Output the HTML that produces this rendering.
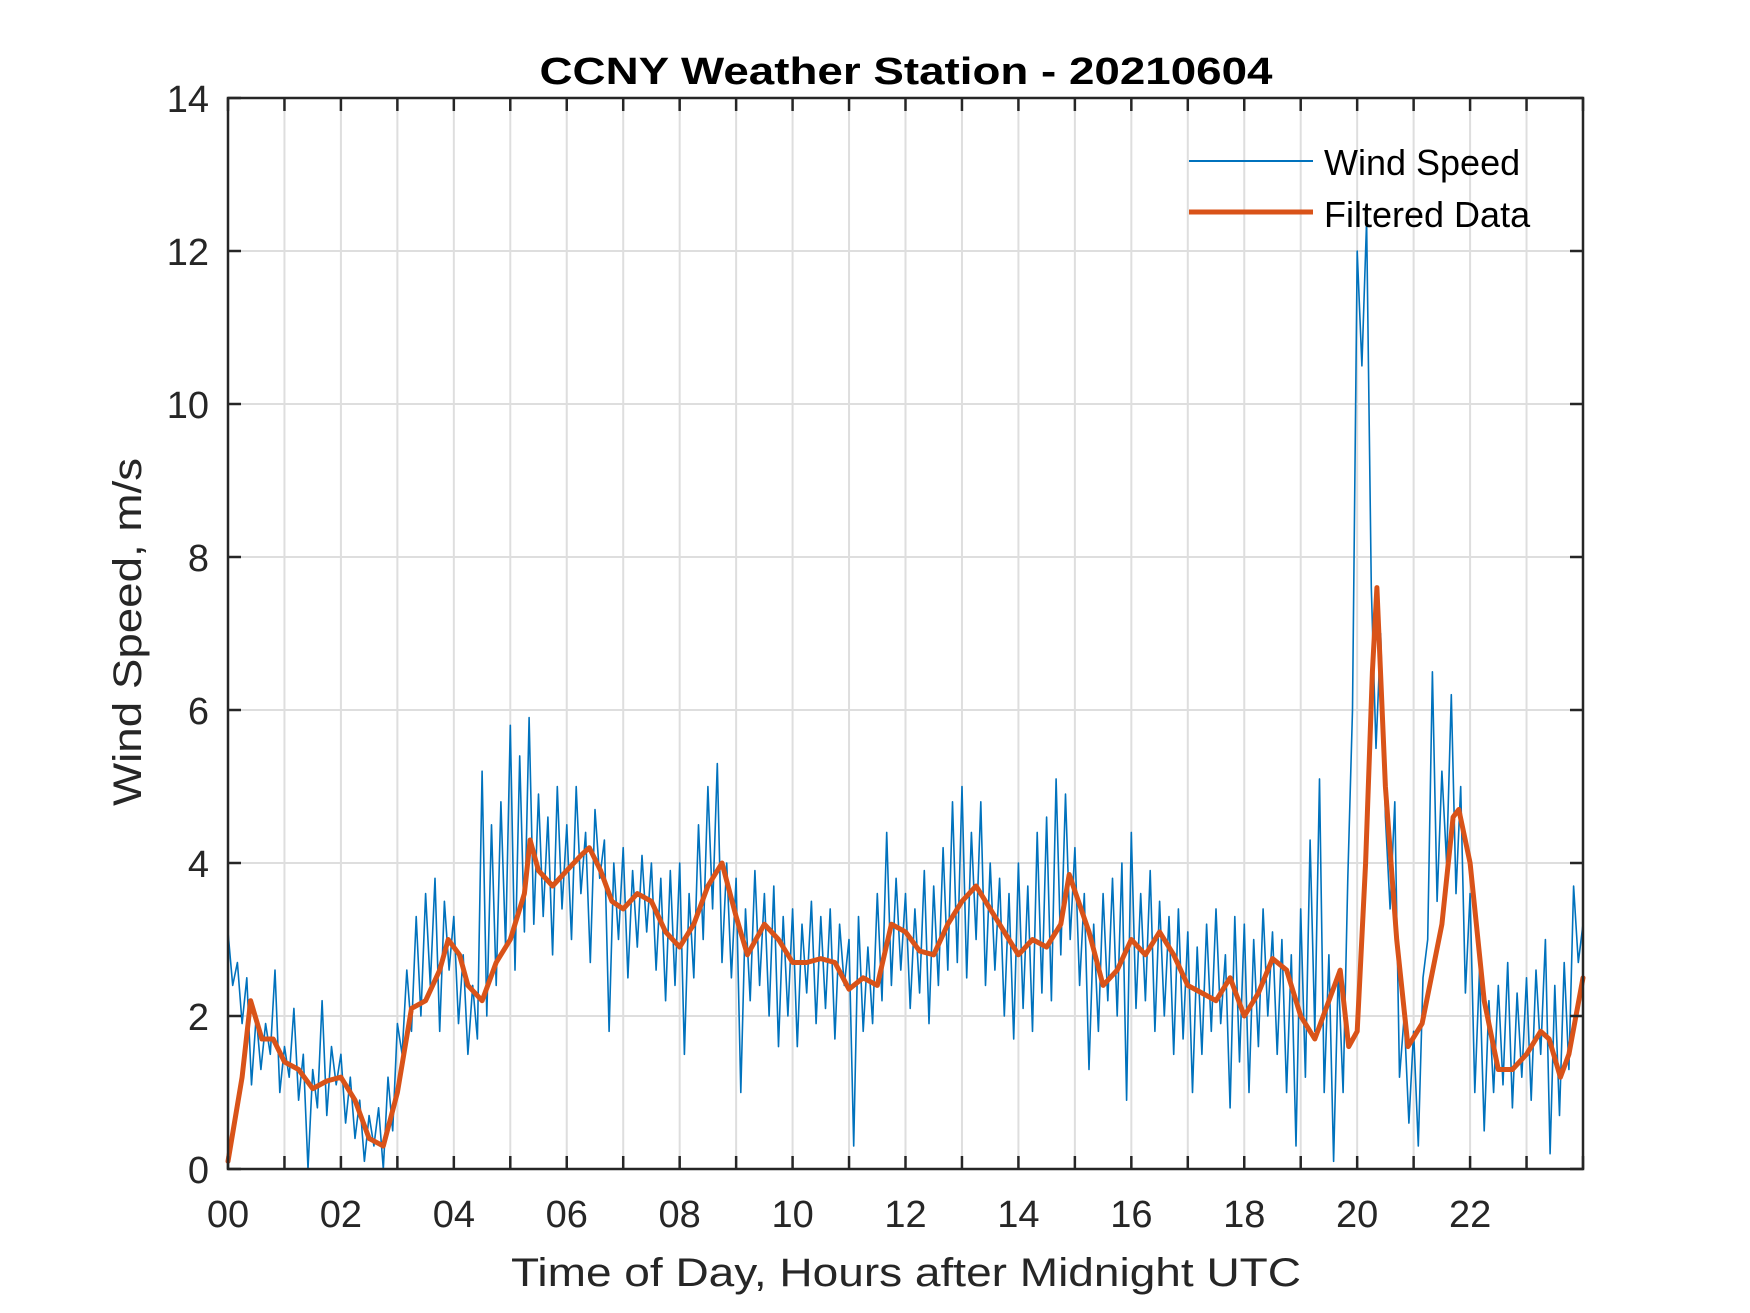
<!DOCTYPE html>
<html><head><meta charset="utf-8"><style>
html,body{margin:0;padding:0;background:#fff;}
svg{display:block;font-family:"Liberation Sans",Arial,sans-serif;}
</style></head><body>
<svg id="chart" width="1750" height="1313" viewBox="0 0 1750 1313" xmlns="http://www.w3.org/2000/svg">
<rect width="1750" height="1313" fill="#fff"/>
<g id="grid"></g>
<g id="series"></g>
<g id="axes"></g>
<text x="906" y="84" text-anchor="middle" font-size="38" font-weight="bold" fill="#000" textLength="733" lengthAdjust="spacingAndGlyphs">CCNY Weather Station - 20210604</text>
<text x="906" y="1286" text-anchor="middle" font-size="40" fill="#262626" textLength="790" lengthAdjust="spacingAndGlyphs">Time of Day, Hours after Midnight UTC</text>
<text transform="translate(141,632) rotate(-90)" text-anchor="middle" font-size="40" fill="#262626" textLength="348" lengthAdjust="spacingAndGlyphs">Wind Speed, m/s</text>
<g>
<line x1="1189" y1="161" x2="1313" y2="161" stroke="#0072BD" stroke-width="2"/>
<text x="1324" y="175" font-size="36" fill="#000">Wind Speed</text>
<line x1="1189" y1="212" x2="1313" y2="212" stroke="#D95319" stroke-width="5"/>
<text x="1324" y="227" font-size="36" fill="#000">Filtered Data</text>
</g>
</svg>
<script>
const xTickLabels = ["00","02","04","06","08","10","12","14","16","18","20","22"];
const yTickLabels = [0,2,4,6,8,10,12,14];
// raw wind speed, 5-minute samples from 00:00 to 24:00
const windSpeed = [
3.1,2.4,2.7,1.9,2.5,1.1,2.0,1.3,1.9,1.5,2.6,1.0,
1.6,1.2,2.1,0.9,1.5,0.0,1.3,0.8,2.2,0.7,1.6,1.1,
1.5,0.6,1.2,0.4,0.9,0.1,0.7,0.3,0.8,0.0,1.2,0.5,
1.9,1.5,2.6,1.8,3.3,2.0,3.6,2.4,3.8,1.8,3.5,2.6,
3.3,1.9,2.8,1.5,2.4,1.7,5.2,2.0,4.5,2.4,4.8,2.9,
5.8,2.6,5.4,3.1,5.9,3.2,4.9,3.3,4.6,2.8,5.0,3.4,
4.5,3.0,5.0,3.6,4.4,2.7,4.7,3.8,4.3,1.8,4.0,3.0,
4.2,2.5,3.9,2.9,4.1,3.1,4.0,2.6,3.8,2.2,3.9,2.4,
4.0,1.5,3.6,2.5,4.5,3.0,5.0,3.4,5.3,2.7,4.0,2.5,
3.8,1.0,3.4,2.2,3.9,2.4,3.6,2.0,3.7,1.6,3.3,2.0,
3.4,1.6,3.2,2.3,3.5,1.9,3.3,2.1,3.4,1.7,3.2,2.4,
3.0,0.3,3.3,1.8,2.9,1.9,3.6,2.2,4.4,2.4,3.8,2.6,
3.6,2.1,3.4,2.3,3.9,1.9,3.7,2.4,4.2,2.6,4.8,2.7,
5.0,2.5,4.4,3.0,4.8,2.4,4.0,2.6,3.8,2.0,3.6,1.7,
4.0,2.1,3.7,1.8,4.4,2.3,4.6,2.2,5.1,2.8,4.9,3.0,
4.2,2.4,3.6,1.3,3.2,1.8,3.6,2.2,3.8,2.0,4.0,0.9,
4.4,2.1,3.6,2.2,3.9,1.8,3.5,2.0,3.3,1.5,3.4,1.7,
3.1,1.0,2.9,1.5,3.2,1.8,3.4,1.9,2.8,0.8,3.3,1.4,
3.2,1.0,3.0,1.6,3.4,2.0,3.1,1.5,3.0,1.0,2.8,0.3,
3.4,1.2,4.3,1.8,5.1,1.0,2.8,0.1,2.6,1.0,3.8,6.0,
12.0,10.5,12.4,7.6,5.5,7.0,4.6,3.4,4.8,1.2,2.0,0.6,
1.8,0.3,2.5,3.0,6.5,3.5,5.2,4.0,6.2,3.6,5.0,2.3,
3.6,1.0,2.6,0.5,2.2,1.0,2.4,1.1,2.7,0.8,2.3,1.2,
2.5,0.9,2.6,1.5,3.0,0.2,2.4,0.7,2.7,1.3,3.7,2.7,
3.2];
const filteredHours = [0,0.25,0.4,0.6,0.8,1.0,1.25,1.5,1.75,2.0,2.25,2.5,2.75,3.0,3.25,3.5,3.75,3.9,4.1,4.25,4.5,4.75,5.0,5.25,5.35,5.5,5.75,6.0,6.25,6.4,6.6,6.8,7.0,7.25,7.5,7.75,8.0,8.25,8.5,8.75,9.0,9.2,9.5,9.75,10.0,10.25,10.5,10.75,11.0,11.25,11.5,11.75,12.0,12.25,12.5,12.75,13.0,13.25,13.5,13.75,14.0,14.25,14.5,14.75,14.9,15.25,15.5,15.75,16.0,16.25,16.5,16.75,17.0,17.25,17.5,17.75,18.0,18.25,18.5,18.75,19.0,19.25,19.5,19.7,19.85,20.0,20.15,20.27,20.35,20.5,20.7,20.9,21.15,21.5,21.7,21.8,22.0,22.25,22.5,22.75,23.0,23.25,23.4,23.6,23.75,24.0];
const filteredValues = [0.1,1.2,2.2,1.7,1.7,1.4,1.3,1.05,1.15,1.2,0.9,0.4,0.3,1.0,2.1,2.2,2.6,3.0,2.8,2.4,2.2,2.7,3.0,3.6,4.3,3.9,3.7,3.9,4.1,4.2,3.9,3.5,3.4,3.6,3.5,3.1,2.9,3.2,3.7,4.0,3.3,2.8,3.2,3.0,2.7,2.7,2.75,2.7,2.35,2.5,2.4,3.2,3.1,2.85,2.8,3.2,3.5,3.7,3.4,3.1,2.8,3.0,2.9,3.2,3.85,3.1,2.4,2.6,3.0,2.8,3.1,2.8,2.4,2.3,2.2,2.5,2.0,2.3,2.75,2.6,2.0,1.7,2.2,2.6,1.6,1.8,4.0,6.5,7.6,5.0,3.0,1.6,1.9,3.2,4.6,4.7,4.0,2.2,1.3,1.3,1.5,1.8,1.7,1.2,1.5,2.5];

const L=228,R=1583,T=98,B=1169,XMAX=24,YMAX=14;
const xs=h=>L+h/XMAX*(R-L);
const ys=v=>B-v/YMAX*(B-T);
const NS="http://www.w3.org/2000/svg";
function mk(tag,attrs,parent){const e=document.createElementNS(NS,tag);for(const k in attrs)e.setAttribute(k,attrs[k]);parent.appendChild(e);return e;}
const grid=document.getElementById('grid'),series=document.getElementById('series'),axes=document.getElementById('axes');
for(let h=0;h<=24;h++){
  const x=xs(h);
  if(h>0&&h<24){const g=mk('line',{x1:x,y1:T,x2:x,y2:B,stroke:'#dedede','stroke-width':2},grid);
  
  }
  const t1=mk('line',{x1:x,y1:B,x2:x,y2:B-13,stroke:'#262626','stroke-width':2.5},axes);
  
  
  const t2=mk('line',{x1:x,y1:T,x2:x,y2:T+13,stroke:'#262626','stroke-width':2.5},axes);
  
  
}
xTickLabels.forEach((lab,i)=>{
  const t=mk('text',{x:xs(i*2),y:1227,'text-anchor':'middle','font-size':38,fill:'#262626'},axes);
  t.textContent=lab;
  
  
});
yTickLabels.forEach(v=>{
  const y=ys(v);
  if(v>0&&v<YMAX){const g=mk('line',{x1:L,y1:y,x2:R,y2:y,stroke:'#dedede','stroke-width':2},grid);
  
  }
  const t1=mk('line',{x1:L,y1:y,x2:L+13,y2:y,stroke:'#262626','stroke-width':2.5},axes);
  
  
  const t2=mk('line',{x1:R,y1:y,x2:R-13,y2:y,stroke:'#262626','stroke-width':2.5},axes);
  
  
  const t=mk('text',{x:209,y:y+14,'text-anchor':'end','font-size':38,fill:'#262626'},axes);
  t.textContent=v;
  
  
});
const box=mk('rect',{x:L,y:T,width:R-L,height:B-T,fill:'none',stroke:'#262626','stroke-width':2.5},axes);


const n=windSpeed.length-1;
const wp=windSpeed.map((v,i)=>xs(i/n*XMAX).toFixed(1)+','+ys(v).toFixed(1)).join(' ');
const wl=mk('polyline',{points:wp,fill:'none',stroke:'#0072BD','stroke-width':1.6,'stroke-linejoin':'round'},series);


const fp=filteredValues.map((v,i)=>xs(filteredHours[i]).toFixed(1)+','+ys(v).toFixed(1)).join(' ');
const fl=mk('polyline',{points:fp,fill:'none',stroke:'#D95319','stroke-width':5,'stroke-linejoin':'round','stroke-linecap':'round'},series);


</script>
</body></html>
